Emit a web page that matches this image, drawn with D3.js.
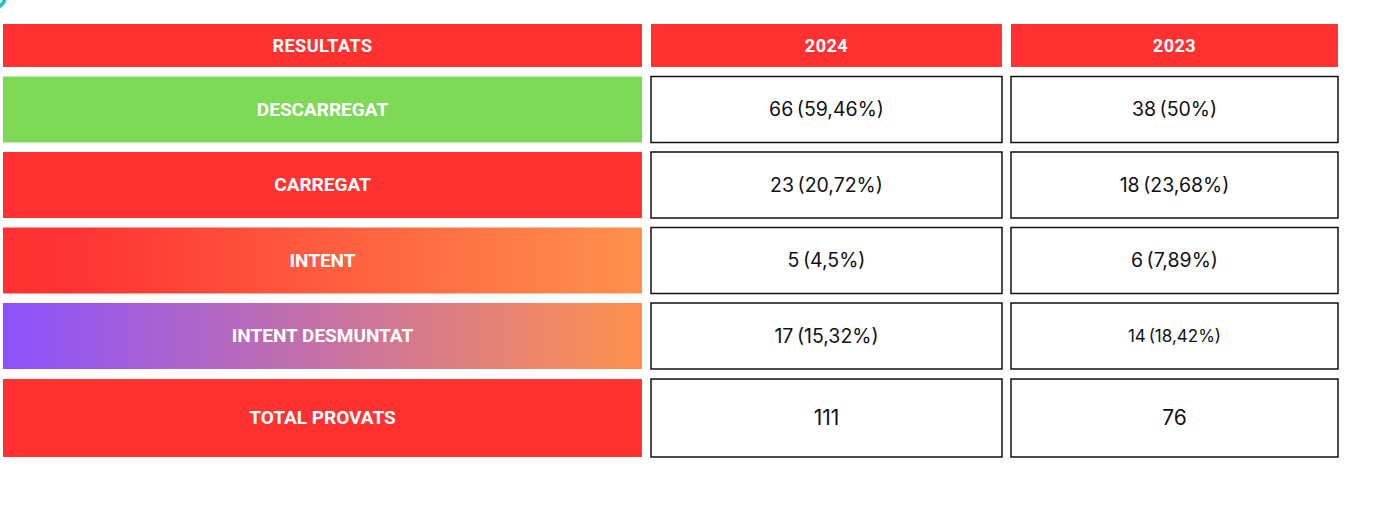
<!DOCTYPE html>
<html>
<head>
<meta charset="utf-8">
<script src="https://cdn.jsdelivr.net/npm/d3@7"></script>
<style>
  html, body { margin: 0; padding: 0; background: #ffffff; }
  svg { display: block; }
</style>
</head>
<body>
<div id="table"></div>
<script>
// --- Data ---
const headers = ["RESULTATS", "2024", "2023"];
const categories = ["DESCARREGAT", "CARREGAT", "INTENT", "INTENT DESMUNTAT", "TOTAL PROVATS"];
const values2024 = ["66 (59,46%)", "23 (20,72%)", "5 (4,5%)", "17 (15,32%)", "111"];
const values2023 = ["38 (50%)", "18 (23,68%)", "6 (7,89%)", "14 (18,42%)", "76"];

// --- Layout ---
const width = 1378, height = 511;
const colX = [3, 651, 1011];
const colW = [639, 351, 327];
const rowY = [24, 76.5, 152, 227.5, 303, 379];
const rowH = [43, 66, 66, 66, 66, 78];

const RED = "#ff3131";
const labelFills = ["#7ed957", RED, "url(#grad-intent)", "url(#grad-desmuntat)", RED];

const svg = d3.select("#table").append("svg")
    .attr("width", width)
    .attr("height", height);

// Gradients for the label cells
const defs = svg.append("defs");
function addGradient(id, stops) {
    const g = defs.append("linearGradient").attr("id", id)
        .attr("x1", "0%").attr("x2", "100%").attr("y1", "0%").attr("y2", "0%");
    stops.forEach(([o, c]) => g.append("stop").attr("offset", o).attr("stop-color", c));
}
addGradient("grad-intent", [["0%", "#ff3131"], ["12%", "#ff3434"], ["100%", "#ff914d"]]);
addGradient("grad-desmuntat", [["0%", "#8c52ff"], ["100%", "#ff914d"]]);

// Little cyan arc peeking in at the top-left corner
svg.append("path")
    .attr("d", d3.arc()({ innerRadius: 8, outerRadius: 12, startAngle: Math.PI * 0.55, endAngle: Math.PI * 0.95 }))
    .attr("transform", "translate(-5,-3)")
    .attr("fill", "#1fbfd0");

// --- Header row ---
const head = svg.append("g").attr("class", "header");
head.selectAll("rect").data(headers).join("rect")
    .attr("x", (d, i) => colX[i])
    .attr("y", rowY[0])
    .attr("width", (d, i) => colW[i])
    .attr("height", rowH[0])
    .attr("fill", RED);
head.selectAll("text").data(headers).join("text")
    .attr("x", (d, i) => colX[i] + colW[i] / 2)
    .attr("y", rowY[0] + rowH[0] / 2)
    .attr("dy", "0.36em")
    .attr("text-anchor", "middle")
    .attr("fill", "#ffffff")
    .style("font-family", "Roboto, 'Liberation Sans', sans-serif")
    .style("font-weight", "700")
    .style("font-size", "18px")
    .style("letter-spacing", "0.5px")
    .text(d => d);

// --- Body rows ---
const rows = svg.selectAll("g.row").data(categories).join("g")
    .attr("class", "row")
    .attr("transform", (d, i) => `translate(0,${rowY[i + 1]})`);

rows.append("rect")
    .attr("x", colX[0])
    .attr("y", 0)
    .attr("width", colW[0])
    .attr("height", (d, i) => rowH[i + 1])
    .attr("fill", (d, i) => labelFills[i]);

rows.append("text")
    .attr("x", colX[0] + colW[0] / 2)
    .attr("y", (d, i) => rowH[i + 1] / 2)
    .attr("dy", "0.34em")
    .attr("text-anchor", "middle")
    .attr("fill", "#ffffff")
    .style("font-family", "Roboto, 'Liberation Sans', sans-serif")
    .style("font-weight", "700")
    .style("font-size", "19px")
    .text(d => d);

// value cells for both years
const lastRow = categories.length - 1;
const yearCols = [values2024, values2023];
yearCols.forEach((vals, c) => {
    rows.append("rect")
        .attr("x", colX[c + 1])
        .attr("y", 0)
        .attr("width", colW[c + 1])
        .attr("height", (d, i) => rowH[i + 1])
        .attr("fill", "#ffffff")
        .attr("stroke", "#111111")
        .attr("stroke-width", 1.5);

    rows.append("text")
        .attr("x", colX[c + 1] + colW[c + 1] / 2)
        .attr("y", (d, i) => rowH[i + 1] / 2)
        .attr("dy", "0.34em")
        .attr("text-anchor", "middle")
        .attr("fill", "#111111")
        .style("font-family", "Inter, 'Noto Sans', sans-serif")
        .style("font-size", (d, i) => {
            if (c === 1 && i === 3) return "17px";
            return i === lastRow ? "21px" : "19.5px";
        })
        .style("word-spacing", "-2px")
        .text((d, i) => vals[i]);
});
</script>
</body>
</html>
